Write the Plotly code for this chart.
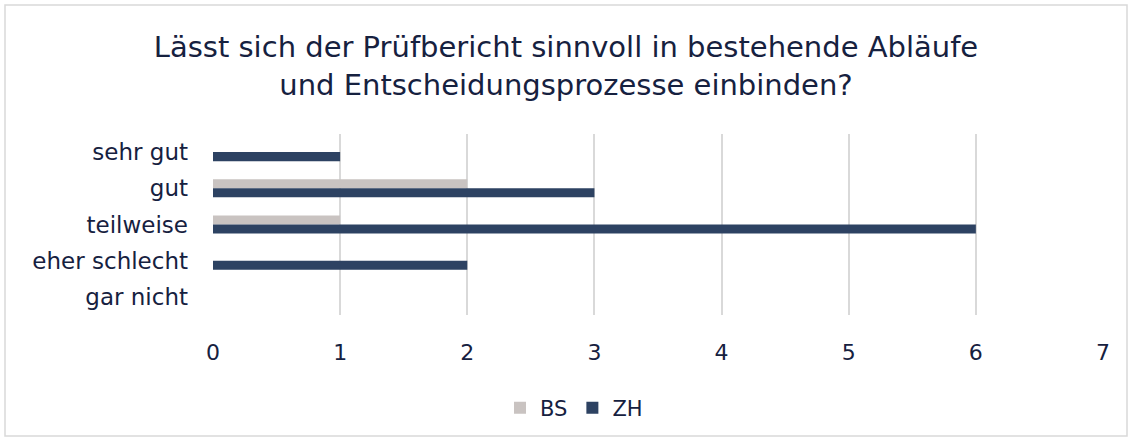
import plotly.graph_objects as go

categories = ["sehr gut", "gut", "teilweise", "eher schlecht", "gar nicht"]
bs_values = [0, 2, 1, 0, 0]
zh_values = [1, 3, 6, 2, 0]
x_ticks = [0, 1, 2, 3, 4, 5, 6, 7]

TEXT = "#16213f"
FONT = "DejaVu Sans, sans-serif"

fig = go.Figure()
fig.add_trace(go.Bar(name="BS", y=categories, x=bs_values, orientation="h",
                     marker=dict(color="#c9c3c1", line=dict(width=0))))
fig.add_trace(go.Bar(name="ZH", y=categories, x=zh_values, orientation="h",
                     marker=dict(color="#2d4262", line=dict(width=0))))

W, H = 1132, 441
L, R, T, B = 213, 29, 134, 126
pw = W - L - R
ph = H - T - B

def px_x(x):
    return (x - L) / pw

def px_y(y):
    return (H - B - y) / ph

fig.update_layout(
    width=W, height=H,
    margin=dict(l=L, r=R, t=T, b=B),
    paper_bgcolor="white", plot_bgcolor="white",
    barmode="group", bargap=0.5, bargroupgap=0,
    font=dict(family=FONT, color=TEXT, size=21),
    title=dict(text="Lässt sich der Prüfbericht sinnvoll in bestehende Abläufe<br>und Entscheidungsprozesse einbinden?",
               x=0.5, xanchor="center", xref="container",
               y=1 - 57 / H, yanchor="top", yref="container",
               font=dict(size=29, color=TEXT, family=FONT)),
    xaxis=dict(range=[0, 7], tickvals=x_ticks, showgrid=True, gridcolor="#d9d9d9",
               gridwidth=1.5, zeroline=False, showline=False, ticks="",
               tickfont=dict(size=22, color=TEXT), ticklabelstandoff=22),
    yaxis=dict(categoryorder="array", categoryarray=categories, autorange="reversed",
               showgrid=False, zeroline=False, showline=False, ticks="",
               tickfont=dict(size=23, color=TEXT), ticklabelstandoff=24),
    showlegend=True,
    legend=dict(orientation="h", x=px_x(574), xanchor="center", y=px_y(408), yanchor="middle",
                font=dict(size=21, color=TEXT), itemwidth=30, traceorder="normal"),
    shapes=[dict(type="rect", xref="paper", yref="paper",
                 x0=px_x(5), x1=px_x(1127), y0=px_y(436), y1=px_y(5),
                 line=dict(color="#d9d9d9", width=1.5), fillcolor="rgba(0,0,0,0)", layer="below")],
)

fig.write_html("out.html", config={"displayModeBar": False},
               post_script="document.body.style.margin='0px';")
